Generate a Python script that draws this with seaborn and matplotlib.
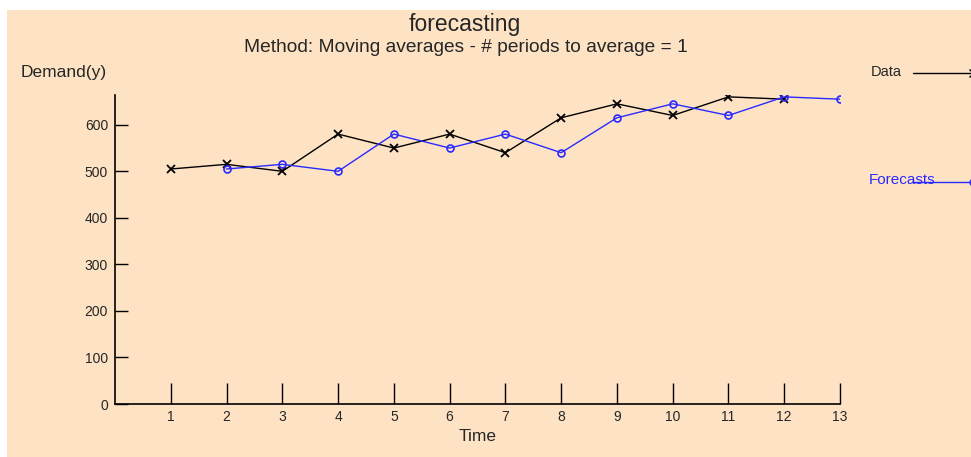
import numpy as np
import matplotlib.pyplot as plt
import pandas as pd
import seaborn as sns
from matplotlib.lines import Line2D
from matplotlib.patches import Rectangle

# observed demand and 1-period moving average forecasts
time_data = [1, 2, 3, 4, 5, 6, 7, 8, 9, 10, 11, 12]
demand = [505, 515, 500, 580, 550, 580, 540, 615, 645, 620, 660, 655]
time_fc = [2, 3, 4, 5, 6, 7, 8, 9, 10, 11, 12, 13]
forecasts = [505, 515, 500, 580, 550, 580, 540, 615, 645, 620, 660, 655]
x_ticks = list(range(1, 14))
y_ticks = [0, 100, 200, 300, 400, 500, 600]

peach = '#fde3c4'
blue = '#2a2aff'

sns.set_theme(style='white')
plt.rcParams['font.family'] = ['Liberation Sans', 'DejaVu Sans']

fig = plt.figure(figsize=(9.71, 4.57), dpi=100, facecolor='white')
fig.patches.append(Rectangle((7 / 971, 0), 1, 447 / 457, transform=fig.transFigure,
                             facecolor=peach, edgecolor='none', zorder=-1))
ax = fig.add_axes([115 / 971, 1 - 404 / 457, (840 - 115) / 971, (404 - 95) / 457])
ax.set_facecolor(peach)

df_data = pd.DataFrame({'Time': time_data, 'Demand': demand})
df_fc = pd.DataFrame({'Time': time_fc, 'Demand': forecasts})
sns.lineplot(data=df_data, x='Time', y='Demand', ax=ax, color='black', lw=1,
             marker='x', markersize=6, markeredgewidth=1.3, markeredgecolor='black')
sns.lineplot(data=df_fc, x='Time', y='Demand', ax=ax, color=blue, lw=1,
             marker='o', markersize=5, markerfacecolor='none', markeredgewidth=1.2,
             markeredgecolor=blue)

ax.set_xlim(0, 13)
ax.set_ylim(0, 664)
ax.set_xticks(x_ticks)
ax.set_yticks(y_ticks)
ax.tick_params(axis='x', direction='in', length=15, width=1, color='black',
               labelsize=10, pad=4, bottom=True)
ax.tick_params(axis='y', direction='in', length=9, width=1, color='black',
               labelsize=10, pad=5, left=True)
for s in ['top', 'right']:
    ax.spines[s].set_visible(False)
for s in ['left', 'bottom']:
    ax.spines[s].set_color('black')
    ax.spines[s].set_linewidth(1.2)
ax.set_xlabel('Time', fontsize=12.5, labelpad=4)
ax.set_ylabel('')

fig.text(107 / 971, 1 - 72 / 457, 'Demand(y)', ha='right', va='center', fontsize=12.5)
fig.text(465 / 971, 1 - 24 / 457, 'forecasting', ha='center', va='center', fontsize=16.5)
fig.text(466 / 971, 1 - 47 / 457, 'Method: Moving averages - # periods to average = 1',
         ha='center', va='center', fontsize=13.8)

# legend on the right
fig.text(871 / 971, 1 - 72 / 457, 'Data', ha='left', va='center', fontsize=10.5)
fig.lines.append(Line2D([913 / 971, 973 / 971], [1 - 73 / 457] * 2, transform=fig.transFigure,
                        color='black', lw=1, marker='x', markevery=[1], markersize=6))
fig.text(869 / 971, 1 - 180 / 457, 'Forecasts', ha='left', va='center', fontsize=11, color=blue)
fig.lines.append(Line2D([912 / 971, 973 / 971], [1 - 182 / 457] * 2, transform=fig.transFigure,
                        color=blue, lw=1, marker='o', markevery=[1], markersize=5,
                        markerfacecolor='none'))

plt.savefig('out.png', dpi=100, facecolor=fig.get_facecolor())
plt.close()
